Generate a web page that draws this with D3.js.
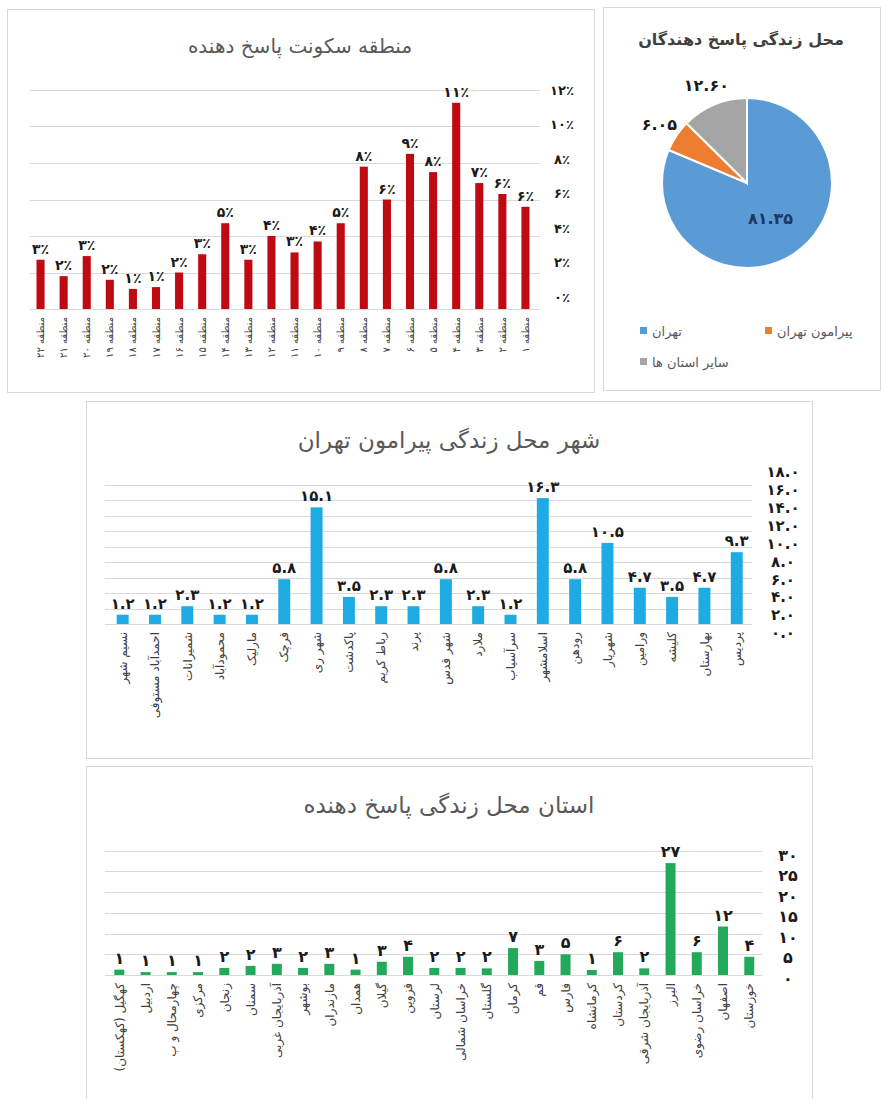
<!DOCTYPE html>
<html>
<head>
<meta charset="utf-8">
<script src="https://cdn.jsdelivr.net/npm/d3@7"></script>
<style>
  body { margin: 0; background: #fff; }
  svg { display: block; font-family: "DejaVu Sans", sans-serif; }
  .panel { fill: #fff; stroke: #d9d9d9; stroke-width: 1; }
  .grid line { stroke: #d9d9d9; stroke-width: 1; }
  .title { fill: #595959; text-anchor: middle; }
  .cat { fill: #404040; }
  .val { fill: #1a1a1a; font-weight: bold; text-anchor: middle; }
  .tick-lbl { fill: #1a1a1a; font-weight: bold; }
</style>
</head>
<body>
<svg id="chart" width="881" height="1099"></svg>
<script>
// data

const districtNames = ["منطقه ۲۲", "منطقه ۲۱", "منطقه ۲۰", "منطقه ۱۹", "منطقه ۱۸", "منطقه ۱۷",
    "منطقه ۱۶", "منطقه ۱۵", "منطقه ۱۴", "منطقه ۱۳", "منطقه ۱۲", "منطقه ۱۱", "منطقه ۱۰",
    "منطقه ۹", "منطقه ۸", "منطقه ۷", "منطقه ۶", "منطقه ۵", "منطقه ۴", "منطقه ۳", "منطقه ۲", "منطقه ۱"];
const districtShare = [2.7, 1.8, 2.9, 1.6, 1.1, 1.2, 2.0, 3.0, 4.7, 2.7, 4.0, 3.1, 3.7,
    4.7, 7.8, 6.0, 8.5, 7.5, 11.3, 6.9, 6.3, 5.6];
const districtTicks = [0, 2, 4, 6, 8, 10, 12];

const placeNames = ["تهران", "پیرامون تهران", "سایر استان ها"];
const placeShare = [81.35, 6.05, 12.60];
const placeColors = ["#5b9bd5", "#ed7d31", "#a5a5a5"];

const cityNames = ["نسیم شهر", "احمدآباد مستوفی", "شمیرانات", "محمودآباد", "مارلیک", "قرچک",
    "شهر ری", "پاکدشت", "رباط کریم", "پرند", "شهر قدس", "ملارد", "سرآسیاب", "اسلامشهر",
    "رودهن", "شهریار", "ورامین", "کلیشه", "بهارستان", "پردیس"];
const cityShare = [1.2, 1.2, 2.3, 1.2, 1.2, 5.8, 15.1, 3.5, 2.3, 2.3, 5.8, 2.3, 1.2, 16.3,
    5.8, 10.5, 4.7, 3.5, 4.7, 9.3];
const cityTicks = [0, 2, 4, 6, 8, 10, 12, 14, 16, 18];

const provinceNames = ["کهگیل (کهکستان)", "اردبیل", "چهارمحال و ب", "مرکزی", "زنجان", "سمنان",
    "آذربایجان غربی", "بوشهر", "مازندران", "همدان", "گیلان", "قزوین", "لرستان", "خراسان شمالی",
    "گلستان", "کرمان", "قم", "فارس", "کرمانشاه", "کردستان", "آذربایجان شرقی", "البرز",
    "خراسان رضوی", "اصفهان", "خوزستان"];
const provinceShare = [1.3, 0.7, 0.7, 0.7, 1.7, 2.2, 2.7, 1.7, 2.7, 1.3, 3.2, 4.4, 1.7, 1.7,
    1.6, 6.5, 3.4, 5.0, 1.2, 5.5, 1.6, 27.0, 5.5, 11.7, 4.4];
const provinceTicks = [0, 5, 10, 15, 20, 25, 30];

// helpers

const faDigits = "۰۱۲۳۴۵۶۷۸۹";
function toFa(s) {
    return String(s).replace(/[0-9]/g, d => faDigits[+d]);
}

const svg = d3.select("#chart");

function panel(x0, y0, x1, y1) {
    svg.append("rect").attr("class", "panel")
        .attr("x", x0 + 0.5).attr("y", y0 + 0.5)
        .attr("width", x1 - x0).attr("height", y1 - y0);
}

function title(text, x, y, size, weight) {
    return svg.append("text").attr("class", "title")
        .attr("x", x).attr("y", y)
        .style("font-size", size + "px")
        .style("font-weight", weight || "normal")
        .text(text);
}

// generic column chart, cfg holds scales and styling
function barChart(cfg) {
    const g = svg.append("g");
    const x = d3.scaleBand().domain(cfg.names).range(cfg.xRange)
        .paddingInner(cfg.pad).paddingOuter(cfg.pad / 2);
    const y = d3.scaleLinear().domain(cfg.yDomain).range(cfg.yRange);
    const yLbl = d3.scaleLinear().domain(cfg.yDomain).range(cfg.tickRange || cfg.yRange);

    g.append("g").attr("class", "grid")
        .selectAll("line").data(cfg.ticks).join("line")
        .attr("x1", cfg.gridX[0]).attr("x2", cfg.gridX[1])
        .attr("y1", d => Math.round(y(d)) + 0.5).attr("y2", d => Math.round(y(d)) + 0.5);

    g.append("g").selectAll("text").data(cfg.ticks).join("text")
        .attr("class", "tick-lbl")
        .attr("x", cfg.tickX).attr("y", d => yLbl(d))
        .attr("dy", "0.35em")
        .attr("text-anchor", "middle")
        .style("font-size", cfg.tickSize + "px")
        .text(d => toFa(cfg.tickFmt(d)));

    g.append("g").selectAll("rect").data(cfg.values).join("rect")
        .attr("x", (d, i) => x(cfg.names[i]))
        .attr("width", x.bandwidth())
        .attr("y", d => y(d))
        .attr("height", d => y(0) - y(d))
        .attr("fill", cfg.color);

    g.append("g").selectAll("text").data(cfg.values).join("text")
        .attr("class", "val")
        .attr("x", (d, i) => x(cfg.names[i]) + x.bandwidth() / 2)
        .attr("y", d => y(d) - 6)
        .style("font-size", cfg.valSize + "px")
        .text(d => toFa(cfg.valFmt(d)));

    g.append("g").selectAll("text").data(cfg.names).join("text")
        .attr("class", "cat")
        .attr("text-anchor", "end")
        .attr("transform", d => "translate(" + (x(d) + x.bandwidth() / 2) + "," + (y(0) + 8) + ") rotate(-90)")
        .attr("dy", "0.35em")
        .style("font-size", cfg.catSize + "px")
        .text(d => d);
}

// top left: district
panel(7, 9, 594, 392);
title("منطقه سکونت پاسخ دهنده", 300, 53, 20);
barChart({
    names: districtNames, values: districtShare,
    xRange: [29, 537], pad: 0.65,
    yDomain: [0, 12], yRange: [309, 90], tickRange: [297, 90],
    gridX: [30, 540], ticks: districtTicks,
    tickX: 562, tickSize: 13, tickFmt: d => d + "٪",
    color: "#bf0a14", valSize: 14, valFmt: d => Math.round(d) + "٪",
    catSize: 10
});

// top right: pie
panel(603, 7, 880, 390);
title("محل زندگی پاسخ دهندگان", 741, 45, 16, "bold").style("fill", "#404040");
(function () {
    const cx = 747, cy = 183, r = 85;
    const pie = d3.pie().sort(null).value(d => d);
    const arcs = pie(placeShare);
    const arc = d3.arc().innerRadius(0).outerRadius(r);
    const inner = d3.arc().innerRadius(r * 0.5).outerRadius(r * 0.5);
    const outer = d3.arc().innerRadius(r * 1.24).outerRadius(r * 1.24);
    const g = svg.append("g").attr("transform", "translate(" + cx + "," + cy + ")");
    g.selectAll("path").data(arcs).join("path")
        .attr("d", arc)
        .attr("fill", (d, i) => placeColors[i])
        .attr("stroke", "#fff").attr("stroke-width", 2);
    g.selectAll("text").data(arcs).join("text")
        .attr("class", "val")
        .style("font-size", "16px")
        .attr("dy", "0.35em")
        .style("fill", (d, i) => i === 0 ? "#1f3864" : "#1a1a1a")
        .attr("text-anchor", (d, i) => i === 0 ? "middle" : (outer.centroid(d)[0] < -40 ? "end" : "middle"))
        .attr("transform", (d, i) => "translate(" + (i === 0 ? inner.centroid(d) : outer.centroid(d)) + ")")
        .text(d => toFa(d3.format(".2f")(d.value)));

    // legend
    const legendPos = [[644, 331], [769, 331], [644, 362]];
    const lg = svg.append("g").selectAll("g").data(placeNames).join("g")
        .attr("transform", (d, i) => "translate(" + legendPos[i] + ")");
    lg.append("rect").attr("x", -4).attr("y", -4).attr("width", 7).attr("height", 7)
        .attr("fill", (d, i) => placeColors[i]);
    lg.append("text").attr("x", 8).attr("dy", "0.35em")
        .style("font-size", "13px").attr("fill", "#595959")
        .text(d => d);
})();

// middle: cities around Tehran
panel(86, 401, 812, 758);
title("شهر محل زندگی پیرامون تهران", 449, 448, 23);
barChart({
    names: cityNames, values: cityShare,
    xRange: [106.5, 752.9], pad: 0.63,
    yDomain: [0, 18], yRange: [624, 485], tickRange: [633, 472],
    gridX: [105, 752], ticks: cityTicks,
    tickX: 783, tickSize: 15, tickFmt: d => d3.format(".1f")(d),
    color: "#1eaae2", valSize: 15, valFmt: d => d3.format(".1f")(d),
    catSize: 12
});

// bottom: provinces
panel(86, 766, 812, 1110);
title("استان محل زندگی پاسخ دهنده", 449, 813, 23);
barChart({
    names: provinceNames, values: provinceShare,
    xRange: [106.2, 762.4], pad: 0.62,
    yDomain: [0, 30], yRange: [975, 850.7], tickRange: [978, 855],
    gridX: [105, 762], ticks: provinceTicks,
    tickX: 788, tickSize: 16, tickFmt: d => d,
    color: "#22a95b", valSize: 16, valFmt: d => Math.round(d),
    catSize: 12
});
</script>
</body>
</html>
